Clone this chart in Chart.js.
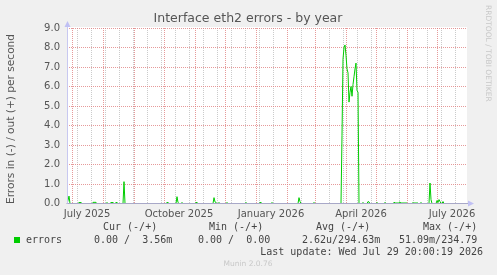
<!DOCTYPE html>
<html>
<head>
<meta charset="utf-8">
<script src="https://cdn.jsdelivr.net/npm/chart.js@4.4.1/dist/chart.umd.min.js"></script>
<style>
  body { margin: 0; background: #f0f0f0; }
  #chart { display: block; }
</style>
</head>
<body>
<canvas id="chart" width="497" height="275"></canvas>
<script>
// day 0 = 26 Jun 2025, graph is 400 days wide (1 px per day)
const START = Date.UTC(2025, 5, 26);
const DAYS = 400;

// error rate samples: day index -> errors/s (out direction, in is all zero)
const sampleDays = [0, 1, 2, 3, 11, 12, 14, 15, 25, 26, 29, 30, 39, 40, 41, 43, 44, 46, 47, 48, 49, 50, 51,
  56, 57, 58, 99, 100, 101, 102, 109, 110, 111, 112, 114, 115, 116, 128, 129, 130, 131,
  146, 147, 148, 149, 150, 151, 152, 153, 159, 160, 161, 178, 179, 180, 192, 193, 194, 195,
  204, 205, 206, 231, 232, 233, 234, 246, 247, 248,
  274, 275, 276, 277, 278, 279, 280, 281, 282, 283, 284, 285, 286, 287, 288, 289, 290, 291, 292,
  295, 296, 297, 300, 301, 302, 303, 309, 310, 311, 317, 318, 319,
  326, 327, 328, 329, 330, 331, 332, 333, 334, 335, 336, 337, 338, 339, 340,
  345, 346, 347, 348, 349, 350, 351, 353, 354, 355,
  362, 363, 364, 365, 369, 370, 371, 372, 373, 374, 375, 376, 377, 398];
const errorsOut = [0, 0.15, 0.38, 0, 0, 0.05, 0.05, 0, 0, 0.06, 0.06, 0, 0, 0.05, 0, 0, 0.05, 0.05, 0, 0, 0.05, 0.05, 0,
  0, 1.12, 0, 0, 0.05, 0.05, 0, 0, 0.35, 0.05, 0, 0, 0.05, 0, 0, 0.05, 0.05, 0,
  0, 0.3, 0.08, 0.05, 0, 0, 0.05, 0, 0, 0.05, 0, 0, 0.05, 0, 0, 0.05, 0.05, 0,
  0, 0.05, 0, 0, 0.3, 0.1, 0, 0, 0.05, 0,
  0, 3.5, 7.4, 8.0, 8.13, 7.6, 6.9, 6.7, 5.2, 5.7, 6.0, 5.5, 6.1, 6.5, 6.9, 7.2, 5.8, 5.7, 0,
  0, 0.05, 0, 0, 0.1, 0.08, 0, 0, 0.05, 0, 0, 0.05, 0,
  0, 0.05, 0.05, 0, 0.05, 0, 0.05, 0.08, 0, 0.05, 0, 0.05, 0, 0.05, 0,
  0, 0.05, 0, 0.05, 0, 0.05, 0, 0, 0.05, 0,
  0, 1.05, 0.2, 0, 0, 0.15, 0.05, 0.2, 0.1, 0, 0, 0.1, 0, 0];

const yTicks = [0, 0.5, 1, 1.5, 2, 2.5, 3, 3.5, 4, 4.5, 5, 5.5, 6, 6.5, 7, 7.5, 8, 8.5, 9];
const monthLabels = ['July 2025', 'October 2025', 'January 2026', 'April 2026', 'July 2026'];
const labelDates = [[2025, 6, 16], [2025, 9, 16], [2026, 0, 16], [2026, 3, 16], [2026, 6, 16]];

const legendHead = ['Cur (-/+)', 'Min (-/+)', 'Avg (-/+)', 'Max (-/+)'];
const legendVals = ['0.00 /  3.56m', '0.00 /  0.00', '2.62u/294.63m', '51.09m/234.79'];

function dayOf(y, m, d) {
    return (Date.UTC(y, m, d) - START) / 86400000;
}

// red lines on every month start, grey every second week
const monthDays = [];
for (let m = 6; m < 6 + 14; m++) {
    const d = dayOf(2025, m, 1);
    if (d > 0 && d < DAYS) monthDays.push(d);
}
const weekDays = [];
for (let d = 10; d < DAYS; d += 14) weekDays.push(d);
const labelDays = labelDates.map(a => dayOf(a[0], a[1], a[2]));

const RED = 'rgba(222, 120, 120, 0.75)';
const GREY = 'rgba(190, 190, 190, 0.8)';

const xTicks = [...new Set([...weekDays, ...monthDays, ...labelDays])].sort((a, b) => a - b);

const textPlugin = {
    id: 'munintext',
    beforeDraw(chart) {
        const { ctx, chartArea } = chart;
        ctx.save();
        ctx.fillStyle = '#ffffff';
        ctx.fillRect(chartArea.left, chartArea.top - 1, chartArea.right - chartArea.left, chartArea.bottom - chartArea.top + 1);
        ctx.restore();
    },
    afterDatasetsDraw(chart) {
        const { ctx, chartArea } = chart;
        const l = Math.round(chartArea.left) + 0.5;
        const b = Math.floor(chartArea.bottom) + 0.5;
        ctx.save();
        // axes with arrow heads
        ctx.strokeStyle = '#a8a8c8';
        ctx.lineWidth = 1;
        ctx.beginPath();
        ctx.moveTo(l - 1, b);
        ctx.lineTo(chartArea.right + 3, b);
        ctx.stroke();
        ctx.strokeStyle = '#c8c8f0';
        ctx.beginPath();
        ctx.moveTo(l, b);
        ctx.lineTo(l, chartArea.top - 4);
        ctx.stroke();
        ctx.fillStyle = '#c0c0f4';
        ctx.beginPath();
        ctx.moveTo(l, chartArea.top - 7);
        ctx.lineTo(l - 3, chartArea.top - 1);
        ctx.lineTo(l + 3, chartArea.top - 1);
        ctx.fill();
        ctx.beginPath();
        ctx.moveTo(chartArea.right + 7, b);
        ctx.lineTo(chartArea.right + 1, b - 3);
        ctx.lineTo(chartArea.right + 1, b + 3);
        ctx.fill();
        ctx.restore();
    },
    afterDraw(chart) {
        const ctx = chart.ctx;
        ctx.save();
        ctx.fillStyle = '#555';
        ctx.font = '12.5px "DejaVu Sans"';
        ctx.textAlign = 'center';
        ctx.textBaseline = 'middle';
        ctx.fillText('Interface eth2 errors - by year', 248, 19);

        ctx.save();
        ctx.translate(11, 119);
        ctx.rotate(-Math.PI / 2);
        ctx.font = '10.6px "DejaVu Sans"';
        ctx.fillText('Errors in (-) / out (+) per second', 0, 0);
        ctx.restore();

        ctx.save();
        ctx.translate(488, 5);
        ctx.rotate(Math.PI / 2);
        ctx.fillStyle = '#c8c8c8';
        ctx.font = '7.5px "DejaVu Sans"';
        ctx.textAlign = 'left';
        ctx.fillText('RRDTOOL / TOBI OETIKER', 0, 0);
        ctx.restore();

        // legend block
        ctx.font = '10px "DejaVu Sans Mono"';
        ctx.fillStyle = '#444';
        ctx.textAlign = 'left';
        const headX = [103, 209, 316, 423];
        const valX = [94, 198, 302, 399];
        legendHead.forEach((t, i) => ctx.fillText(t, headX[i], 227));
        ctx.fillStyle = '#00cc00';
        ctx.fillRect(14, 237, 6, 6);
        ctx.fillStyle = '#444';
        ctx.fillText('errors', 26, 240);
        legendVals.forEach((t, i) => ctx.fillText(t, valX[i], 240));
        ctx.textAlign = 'right';
        ctx.fillText('Last update: Wed Jul 29 20:00:19 2026', 483, 252);

        ctx.textAlign = 'center';
        ctx.fillStyle = '#c8c8c8';
        ctx.font = '7.5px "DejaVu Sans"';
        ctx.fillText('Munin 2.0.76', 248, 264);
        ctx.restore();
    }
};

new Chart(document.getElementById('chart'), {
    type: 'line',
    data: {
        datasets: [{
            label: 'errors',
            data: sampleDays.map((d, i) => ({ x: d, y: errorsOut[i] })),
            borderColor: '#00cc00',
            borderWidth: 1,
            pointRadius: 0,
            tension: 0,
            fill: false
        }]
    },
    options: {
        responsive: false,
        devicePixelRatio: 1,
        animation: false,
        layout: { padding: { left: 0, top: 28, right: 30, bottom: 51.5 } },
        plugins: { legend: { display: false }, tooltip: { enabled: false } },
        scales: {
            x: {
                type: 'linear',
                min: 0,
                max: DAYS,
                afterBuildTicks: s => { s.ticks = xTicks.map(v => ({ value: v })); },
                afterFit: s => { s.height = 20; },
                grid: {
                    drawTicks: false,
                    color: c => {
                        const v = c.tick ? c.tick.value : -1;
                        if (monthDays.includes(v)) return RED;
                        if (weekDays.includes(v)) return GREY;
                        return 'rgba(0,0,0,0)';
                    }
                },
                border: { display: false, dash: [1, 1] },
                ticks: {
                    autoSkip: false,
                    maxRotation: 0,
                    padding: 5,
                    color: '#555',
                    font: { family: 'DejaVu Sans', size: 10 },
                    callback: v => {
                        const i = labelDays.indexOf(v);
                        return i >= 0 ? monthLabels[i] : '';
                    }
                }
            },
            y: {
                min: 0,
                max: 9,
                afterBuildTicks: s => { s.ticks = yTicks.map(v => ({ value: v })); },
                afterFit: s => { s.width = 67; },
                grid: {
                    drawTicks: false,
                    color: c => (c.tick && c.tick.value % 1 === 0) ? RED : GREY
                },
                border: { display: false, dash: [1, 1] },
                ticks: {
                    padding: 7,
                    color: '#555',
                    font: { family: 'DejaVu Sans', size: 10 },
                    callback: v => v % 1 === 0 ? v.toFixed(1) : ''
                }
            }
        }
    },
    plugins: [textPlugin]
});
</script>
</body>
</html>
